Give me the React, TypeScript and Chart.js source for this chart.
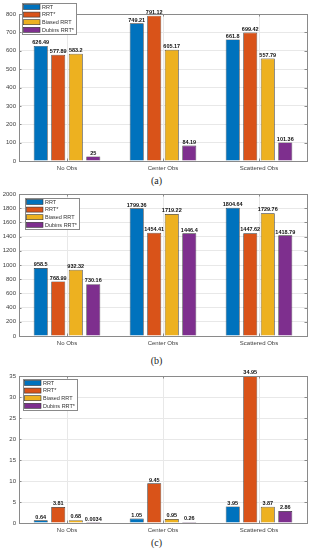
import React, { useEffect, useRef } from "react";
import { Chart, registerables } from "chart.js";

Chart.register(...registerables);

const categories = ["No Obs", "Center Obs", "Scattered Obs"];
const seriesNames = ["RRT", "RRT*", "Biased RRT", "Dubins RRT*"];
const seriesColors = ["#0072BD", "#D95319", "#EDB120", "#7E2F8E"];

// (a)
const aRRT = [626.49, 749.21, 661.8];
const aRRTStar = [577.89, 791.12, 699.42];
const aBiased = [583.2, 605.17, 557.79];
const aDubins = [25, 84.19, 101.36];

// (b)
const bRRT = [958.5, 1799.36, 1804.64];
const bRRTStar = [768.99, 1454.41, 1447.62];
const bBiased = [932.32, 1719.22, 1729.76];
const bDubins = [730.16, 1446.4, 1418.79];

// (c)
const cRRT = [0.64, 1.05, 3.95];
const cRRTStar = [3.81, 9.45, 34.95];
const cBiased = [0.68, 0.95, 3.87];
const cDubins = [0.0034, 0.26, 2.86];

const FONT = "'Liberation Sans', Arial, sans-serif";

const framePlugin = {
  id: "frame",
  afterDraw(chart: any) {
    const { ctx, chartArea } = chart;
    const ys = chart.scales.y;
    ctx.save();
    ctx.strokeStyle = "#8a8a8a";
    ctx.lineWidth = 1;
    ctx.strokeRect(
      Math.round(chartArea.left) + 0.5,
      Math.round(chartArea.top) + 0.5,
      Math.round(chartArea.right - chartArea.left),
      Math.round(chartArea.bottom - chartArea.top)
    );
    ctx.beginPath();
    ys.ticks.forEach((t: any) => {
      const y = Math.round(ys.getPixelForValue(t.value)) + 0.5;
      ctx.moveTo(chartArea.left, y);
      ctx.lineTo(chartArea.left + 2.5, y);
      ctx.moveTo(chartArea.right, y);
      ctx.lineTo(chartArea.right - 2.5, y);
    });
    const xs = chart.scales.x;
    xs.ticks.forEach((_t: any, i: number) => {
      const x = Math.round(xs.getPixelForTick(i)) + 0.5;
      ctx.moveTo(x, chartArea.bottom);
      ctx.lineTo(x, chartArea.bottom - 2.5);
      ctx.moveTo(x, chartArea.top);
      ctx.lineTo(x, chartArea.top + 2.5);
    });
    ctx.stroke();
    ctx.restore();
  },
};

const labelPlugin = {
  id: "valueLabels",
  afterDatasetsDraw(chart: any) {
    const { ctx } = chart;
    ctx.save();
    ctx.font = `bold 5.5px ${FONT}`;
    ctx.fillStyle = "#111";
    ctx.textAlign = "center";
    ctx.textBaseline = "bottom";
    chart.data.datasets.forEach((ds: any, di: number) => {
      const meta = chart.getDatasetMeta(di);
      meta.data.forEach((el: any, i: number) => {
        ctx.fillText(String(ds.data[i]), el.x, el.y - 0.5);
      });
    });
    ctx.restore();
  },
};

const legendPlugin = {
  id: "boxLegend",
  afterDraw(chart: any, _args: any, opts: any) {
    const { ctx, chartArea } = chart;
    const x0 = chartArea.left + opts.dx;
    const y0 = chartArea.top + opts.dy;
    const w = 54;
    const h = 31;
    ctx.save();
    ctx.fillStyle = "#ffffff";
    ctx.fillRect(x0, y0, w, h);
    ctx.strokeStyle = "#8a8a8a";
    ctx.lineWidth = 1;
    ctx.strokeRect(Math.round(x0) + 0.5, Math.round(y0) + 0.5, w, h);
    ctx.font = `5.5px ${FONT}`;
    ctx.textBaseline = "middle";
    ctx.textAlign = "left";
    chart.data.datasets.forEach((ds: any, i: number) => {
      const cy = y0 + 4 + i * 7.6;
      ctx.fillStyle = ds.backgroundColor;
      ctx.fillRect(x0 + 1.5, cy - 2.5, 16.5, 5);
      ctx.strokeStyle = "#333";
      ctx.lineWidth = 0.6;
      ctx.strokeRect(x0 + 1.5, cy - 2.5, 16.5, 5);
      ctx.fillStyle = "#333";
      ctx.fillText(ds.label, x0 + 20, cy + 0.3);
    });
    ctx.restore();
  },
};

type BarProps = {
  series: number[][];
  max: number;
  step: number;
  padTop: number;
  legendDx: number;
  legendDy: number;
};

function BarChart({ series, max, step, padTop, legendDx, legendDy }: BarProps) {
  const ref = useRef<HTMLCanvasElement | null>(null);
  useEffect(() => {
    if (!ref.current) return;
    const chart = new Chart(ref.current, {
      type: "bar",
      data: {
        labels: categories,
        datasets: series.map((d, i) => ({
          label: seriesNames[i],
          data: d,
          backgroundColor: seriesColors[i],
          borderColor: "#2a2a2a",
          borderWidth: 0.7,
          categoryPercentage: 0.73,
          barPercentage: 0.8,
        })),
      },
      options: {
        animation: false,
        responsive: true,
        maintainAspectRatio: false,
        layout: { padding: { top: padTop, right: 6, left: 0, bottom: 0 } },
        plugins: {
          legend: { display: false },
          tooltip: { enabled: false },
          boxLegend: { dx: legendDx, dy: legendDy },
        } as any,
        scales: {
          x: {
            grid: { display: true, color: "#e8e8e8", offset: false, drawTicks: false },
            border: { display: false },
            ticks: { color: "#404040", font: { family: FONT, size: 6 }, padding: 4 },
            afterFit: (s: any) => {
              s.height = 14;
            },
          },
          y: {
            min: 0,
            max: max,
            grid: { display: true, color: "#e8e8e8", drawTicks: false },
            border: { display: false },
            ticks: {
              stepSize: step,
              color: "#404040",
              font: { family: FONT, size: 6 },
              padding: 3,
              callback: (v: any) => String(v),
            },
            afterFit: (s: any) => {
              s.width = 19;
            },
          },
        },
      },
      plugins: [labelPlugin, framePlugin, legendPlugin],
    } as any);
    return () => chart.destroy();
  }, []);
  return <canvas ref={ref} />;
}

const captionStyle: React.CSSProperties = {
  position: "absolute",
  left: 0,
  width: 313,
  textAlign: "center",
  fontFamily: "'Liberation Serif', 'DejaVu Serif', serif",
  fontSize: 10,
  lineHeight: "12px",
  color: "#222",
};

export default function App() {
  return (
    <div style={{ position: "absolute", left: 0, top: 0, width: 313, height: 550, background: "#fff" }}>
      <div style={{ position: "absolute", left: 0, top: 0, width: 313, height: 175 }}>
        <BarChart series={[aRRT, aRRTStar, aBiased, aDubins]} max={800} step={100} padTop={14} legendDx={3} legendDy={-11} />
      </div>
      <div style={{ ...captionStyle, top: 175 }}>(a)</div>
      <div style={{ position: "absolute", left: 0, top: 184, width: 313, height: 166 }}>
        <BarChart series={[bRRT, bRRTStar, bBiased, bDubins]} max={2000} step={200} padTop={10} legendDx={6} legendDy={4} />
      </div>
      <div style={{ ...captionStyle, top: 355 }}>(b)</div>
      <div style={{ position: "absolute", left: 0, top: 366, width: 313, height: 171 }}>
        <BarChart series={[cRRT, cRRTStar, cBiased, cDubins]} max={35} step={5} padTop={10} legendDx={4} legendDy={3} />
      </div>
      <div style={{ ...captionStyle, top: 537 }}>(c)</div>
    </div>
  );
}
